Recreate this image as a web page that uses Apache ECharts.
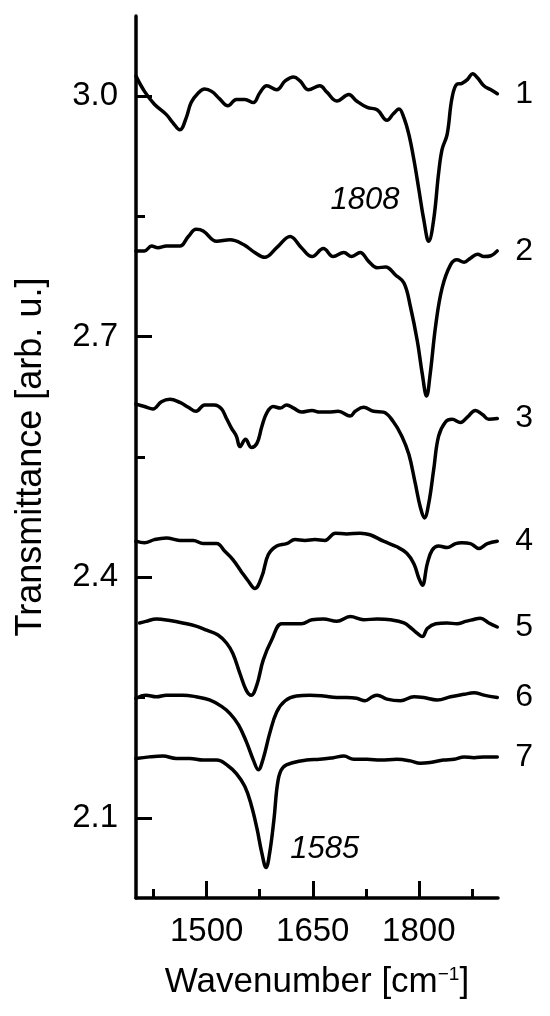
<!DOCTYPE html>
<html>
<head>
<meta charset="utf-8">
<script src="https://cdn.jsdelivr.net/npm/echarts@6/dist/echarts.min.js"></script>
<style>
  html, body { margin: 0; padding: 0; background: #fff; }
  #chart { width: 550px; height: 1016px; }
</style>
</head>
<body>
<div id="chart"></div>
<script>
// spectra: wavenumber (cm-1) and transmittance (offset, arb. u.)
const wn1 = [1400,1412,1426,1443,1452,1462,1471,1478,1488,1497,1507,1518,1530,1542,1554,1566,1575,1585,1599,1611,1623,1632,1644,1660,1670,1684,1701,1712,1727,1741,1755,1764,1772,1779,1786,1793,1800,1807,1814,1821,1828,1833,1840,1847,1854,1861,1869,1876,1883,1892,1902,1911]
const t1 = [3.025,3.006,2.990,2.977,2.967,2.958,2.973,2.992,3.004,3.009,3.006,2.997,2.988,2.996,2.996,2.992,3.004,3.013,3.008,3.019,3.024,3.019,3.008,3.013,3.005,2.994,3.002,2.994,2.986,2.983,2.970,2.978,2.984,2.973,2.952,2.921,2.884,2.846,2.819,2.846,2.904,2.934,2.952,2.998,3.015,3.016,3.021,3.028,3.023,3.013,3.008,3.003]

const wn2 = [1400,1412,1422,1431,1443,1462,1474,1485,1495,1514,1533,1552,1568,1582,1599,1618,1634,1649,1665,1679,1694,1705,1717,1729,1741,1753,1767,1779,1788,1798,1805,1811,1816,1824,1833,1845,1854,1864,1873,1883,1892,1902,1911]
const t2 = [2.807,2.807,2.813,2.811,2.813,2.813,2.825,2.834,2.832,2.819,2.821,2.815,2.805,2.799,2.811,2.825,2.811,2.800,2.810,2.800,2.805,2.800,2.805,2.794,2.786,2.787,2.777,2.767,2.738,2.694,2.653,2.626,2.653,2.715,2.761,2.790,2.796,2.793,2.798,2.803,2.800,2.801,2.807]

const wn3 = [1400,1412,1424,1436,1448,1462,1474,1485,1497,1511,1521,1528,1535,1542,1547,1555,1563,1571,1578,1585,1594,1604,1613,1623,1634,1649,1660,1672,1686,1703,1710,1722,1736,1750,1764,1776,1786,1795,1802,1808,1814,1821,1828,1838,1847,1859,1869,1880,1890,1899,1911]
const t3 = [2.616,2.613,2.610,2.619,2.622,2.618,2.612,2.607,2.615,2.615,2.610,2.598,2.586,2.576,2.563,2.572,2.562,2.567,2.588,2.605,2.613,2.611,2.615,2.611,2.606,2.608,2.606,2.606,2.607,2.601,2.607,2.612,2.607,2.606,2.594,2.576,2.553,2.517,2.488,2.474,2.492,2.534,2.576,2.594,2.597,2.593,2.600,2.608,2.603,2.597,2.598]

const wn4 = [1400,1412,1426,1443,1462,1481,1495,1514,1526,1537,1549,1559,1568,1578,1587,1599,1613,1625,1639,1653,1667,1682,1698,1717,1731,1750,1769,1783,1793,1800,1805,1812,1819,1828,1840,1852,1861,1873,1885,1897,1911]
const t4 = [2.445,2.443,2.447,2.449,2.446,2.446,2.442,2.442,2.432,2.422,2.407,2.395,2.386,2.401,2.428,2.439,2.442,2.447,2.446,2.447,2.446,2.455,2.454,2.455,2.453,2.445,2.438,2.430,2.417,2.399,2.390,2.417,2.434,2.439,2.437,2.442,2.443,2.442,2.436,2.442,2.445]

const wn5 = [1405,1414,1429,1448,1466,1485,1500,1516,1528,1537,1547,1556,1563,1571,1580,1592,1606,1620,1634,1649,1665,1684,1703,1722,1741,1760,1779,1790,1798,1805,1812,1824,1840,1854,1866,1876,1887,1899,1911]
const t5 = [2.343,2.345,2.348,2.346,2.343,2.339,2.334,2.328,2.318,2.305,2.280,2.259,2.253,2.266,2.297,2.322,2.342,2.342,2.342,2.347,2.348,2.345,2.351,2.347,2.348,2.347,2.343,2.336,2.330,2.326,2.336,2.342,2.343,2.342,2.345,2.347,2.349,2.343,2.338]

const wn6 = [1400,1414,1429,1443,1466,1485,1504,1521,1533,1545,1556,1566,1573,1580,1589,1599,1611,1627,1646,1665,1684,1698,1712,1724,1734,1741,1755,1774,1793,1807,1826,1845,1864,1878,1892,1911]
const t6 = [2.249,2.253,2.251,2.253,2.253,2.251,2.247,2.239,2.230,2.216,2.195,2.172,2.160,2.174,2.205,2.232,2.246,2.252,2.253,2.252,2.250,2.250,2.249,2.246,2.251,2.253,2.248,2.246,2.251,2.250,2.247,2.251,2.254,2.256,2.253,2.250]

const wn7 = [1400,1419,1438,1457,1476,1495,1514,1530,1542,1554,1563,1571,1578,1584,1589,1595,1601,1608,1623,1641,1660,1679,1694,1708,1727,1746,1769,1788,1802,1816,1835,1850,1864,1878,1892,1911]
const t7 = [2.174,2.176,2.177,2.174,2.174,2.172,2.172,2.165,2.155,2.139,2.116,2.087,2.056,2.038,2.056,2.097,2.147,2.163,2.169,2.172,2.173,2.175,2.177,2.173,2.173,2.172,2.173,2.171,2.168,2.169,2.172,2.173,2.176,2.175,2.176,2.176]

const curveNames = ['1', '2', '3', '4', '5', '6', '7']
const xMajor = [1500, 1650, 1800]
const xMinor = [1425, 1575, 1725, 1875]
const yMajor = [2.1, 2.4, 2.7, 3.0]
const yMinor = [2.25, 2.55, 2.85]

// peak annotations
const peakText = ['1808', '1585']
const peakX = [1724, 1667]
const peakY = [2.870, 2.061]

const FONT = "'Liberation Sans', Arial, sans-serif"
const wns = [wn1, wn2, wn3, wn4, wn5, wn6, wn7]
const ts = [t1, t2, t3, t4, t5, t6, t7]

const chart = echarts.init(document.getElementById('chart'))

const tickLine = { color: '#000', width: 3 }

const curves = curveNames.map((name, i) => ({
  type: 'line',
  name: name,
  data: wns[i].map((x, j) => [x, ts[i][j]]),
  showSymbol: false,
  smooth: 0.4,
  silent: true,
  lineStyle: { color: '#000', width: 3.5, join: 'round', cap: 'round' },
  endLabel: {
    show: true, formatter: '{a}', distance: 18,
    fontSize: 32, fontFamily: FONT, color: '#000'
  }
}))

chart.setOption({
  animation: false,
  backgroundColor: '#fff',
  grid: { left: 136, right: 52, top: 16, bottom: 118, outerBoundsMode: 'none' },
  xAxis: [{
    type: 'value', min: 1400, max: 1912,
    axisLine: { lineStyle: { color: '#000', width: 3.5 } },
    axisTick: { inside: true, length: 17, customValues: xMajor, lineStyle: tickLine },
    axisLabel: {
      customValues: xMajor, fontSize: 33, fontFamily: FONT, color: '#000', margin: 17,
      formatter: v => String(v)
    },
    splitLine: { show: false },
    name: 'Wavenumber [cm{sup|−1}]',
    nameLocation: 'middle',
    nameGap: 67,
    nameTextStyle: {
      fontSize: 35, fontFamily: FONT, color: '#000',
      rich: { sup: { fontSize: 19, fontFamily: FONT, color: '#000', verticalAlign: 'top', padding: [0, 0, 14, 0] } }
    }
  }, {
    type: 'value', min: 1400, max: 1912, position: 'bottom',
    axisLine: { show: false },
    axisTick: { inside: true, length: 9, customValues: xMinor, lineStyle: tickLine },
    axisLabel: { show: false },
    splitLine: { show: false }
  }],
  yAxis: [{
    type: 'value', min: 2.0, max: 3.1,
    axisLine: { show: true, lineStyle: { color: '#000', width: 3.5 } },
    axisTick: { show: true, inside: true, length: 16, customValues: yMajor, lineStyle: tickLine },
    axisLabel: {
      customValues: yMajor, fontSize: 33, fontFamily: FONT, color: '#000', margin: 18,
      formatter: v => v.toFixed(1)
    },
    splitLine: { show: false },
    name: 'Transmittance [arb. u.]',
    nameLocation: 'middle',
    nameRotate: 90,
    nameGap: 87,
    nameTextStyle: { fontSize: 36, fontFamily: FONT, color: '#000' }
  }, {
    type: 'value', min: 2.0, max: 3.1, position: 'left',
    axisLine: { show: false },
    axisTick: { show: true, inside: true, length: 9, customValues: yMinor, lineStyle: tickLine },
    axisLabel: { show: false },
    splitLine: { show: false }
  }],
  series: curves.concat([{
    type: 'scatter',
    silent: true,
    symbolSize: 0,
    itemStyle: { opacity: 1 },
    data: peakText.map((s, i) => ({ name: s, value: [peakX[i], peakY[i]] })),
    label: {
      show: true, position: 'inside', formatter: '{b}', opacity: 1,
      fontSize: 31, fontStyle: 'italic', fontFamily: FONT, color: '#000'
    }
  }])
})
</script>
</body>
</html>
